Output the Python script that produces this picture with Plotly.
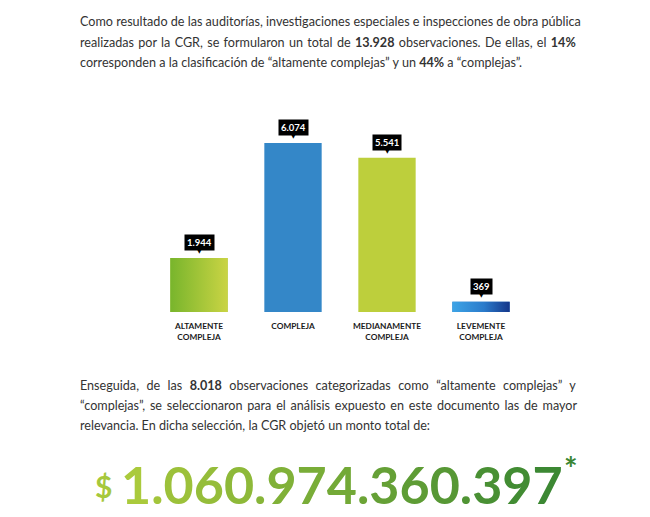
import plotly.graph_objects as go

categories = ["ALTAMENTE<br>COMPLEJA", "COMPLEJA", "MEDIANAMENTE<br>COMPLEJA", "LEVEMENTE<br>COMPLEJA"]
values = [1944, 6074, 5541, 369]
value_labels = ["1.944", "6.074", "5.541", "369"]

para1 = [
    "Como resultado de las auditorías, investigaciones especiales e inspecciones de obra pública",
    "realizadas por la CGR, se formularon un total de <b>13.928</b> observaciones. De ellas, el <b>14%</b>",
    "corresponden a la clasificación de “altamente complejas” y un <b>44%</b> a “complejas”.",
]
para2 = [
    "Enseguida, de las <b>8.018</b> observaciones categorizadas como “altamente complejas” y",
    "“complejas”, se seleccionaron para el análisis expuesto en este documento las de mayor",
    "relevancia. En dicha selección, la CGR objetó un monto total de:",
]
big_number = "1.060.974.360.397"

W, H = 650, 517
bar_colors = ["#9cc43a", "#3487c8", "#bdcf3c", "#2a78c8"]
gradients = {
    0: [[0, "#78b52c"], [1, "#cad444"]],
    3: [[0, "#3da4e6"], [0.55, "#2b7bcb"], [1, "#14368a"]],
}
bw = 0.61

fig = go.Figure()
xs = list(range(len(values)))
fig.add_trace(go.Bar(x=xs, y=values, width=bw, marker=dict(color=bar_colors, line=dict(width=0)),
                     hoverinfo="skip", showlegend=False))
for i, cs in gradients.items():
    v = values[i]
    fig.add_trace(go.Scatter(
        x=[i - bw / 2, i + bw / 2, i + bw / 2, i - bw / 2, i - bw / 2],
        y=[0, 0, v, v, 0], mode="lines", line=dict(width=0), fill="toself",
        fillgradient=dict(type="horizontal", colorscale=cs), hoverinfo="skip", showlegend=False))

annotations = []
for i, (v, lab) in enumerate(zip(values, value_labels)):
    annotations.append(dict(x=i, y=v, xref="x", yref="y", text="<b>" + lab + "</b>", showarrow=False,
                            yshift=15, bgcolor="#000000", borderpad=2,
                            font=dict(family="Lato, Noto Sans", size=9.5, color="white")))
    annotations.append(dict(x=i, y=v, xref="x", yref="y", text="▼", showarrow=False, yshift=7,
                            font=dict(family="DejaVu Sans", size=6, color="#000000")))

body_font = dict(family="Lato, Roboto", size=12.6, color="#333333")
spacing1 = [0, 1.1, 0]
spacing2 = [4.2, 1.6, 0]
for k, line in enumerate(para1):
    annotations.append(dict(x=78 / W, y=1 - (22 + 20 * k) / H, xref="paper", yref="paper",
                            text="<span style='word-spacing:%.1fpx'>%s</span>" % (spacing1[k], line),
                            showarrow=False, xanchor="left", yanchor="middle", font=body_font))
for k, line in enumerate(para2):
    annotations.append(dict(x=78 / W, y=1 - (385 + 20 * k) / H, xref="paper", yref="paper",
                            text="<span style='word-spacing:%.1fpx'>%s</span>" % (spacing2[k], line),
                            showarrow=False, xanchor="left", yanchor="middle", font=body_font))

# big number with per-character gradient
c0 = (0xAA, 0xCA, 0x3C)
c1 = (0x3C, 0x88, 0x33)
n = len(big_number)
spans = ""
for j, ch in enumerate(big_number):
    t = j / (n - 1)
    col = "#%02x%02x%02x" % tuple(int(a + (b - a) * t) for a, b in zip(c0, c1))
    spans += "<span style='color:%s'>%s</span>" % (col, ch)
annotations.append(dict(x=119 / W, y=1 - 484 / H, xref="paper", yref="paper", text="<b>" + spans + "</b>",
                        showarrow=False, xanchor="left", yanchor="middle",
                        font=dict(family="Lato, Noto Sans", size=52, color="#6aa836")))
annotations.append(dict(x=114 / W, y=1 - 486 / H, xref="paper", yref="paper", text="<b>$</b>",
                        showarrow=False, xanchor="right", yanchor="middle",
                        font=dict(family="Lato, Noto Sans", size=30, color="#a6c83c")))
annotations.append(dict(x=562 / W, y=1 - 468 / H, xref="paper", yref="paper", text="<b>*</b>",
                        showarrow=False, xanchor="left", yanchor="middle",
                        font=dict(family="Lato, Noto Sans", size=32, color="#3a8632")))

fig.update_layout(
    width=W, height=H, margin=dict(l=0, r=0, t=0, b=0),
    paper_bgcolor="white", plot_bgcolor="white",
    xaxis=dict(domain=[152 / W, 528 / W], range=[-0.5, 3.5], tickvals=xs, ticktext=categories,
               showgrid=False, zeroline=False, showline=False, ticks="", automargin=False,
               ticklabelstandoff=8,
               tickfont=dict(family="Lato, Noto Sans", size=8.3, color="#1a1a1a", weight=700)),
    yaxis=dict(domain=[1 - 312 / H, 1 - (312 - 7000 * 169 / 6074) / H], range=[0, 7000],
               showgrid=False, zeroline=False, showline=False, showticklabels=False, automargin=False),
    annotations=annotations, bargap=0.39,
)
fig.write_html("out.html", config={"displayModeBar": False},
               post_script="document.body.style.margin='0';")
